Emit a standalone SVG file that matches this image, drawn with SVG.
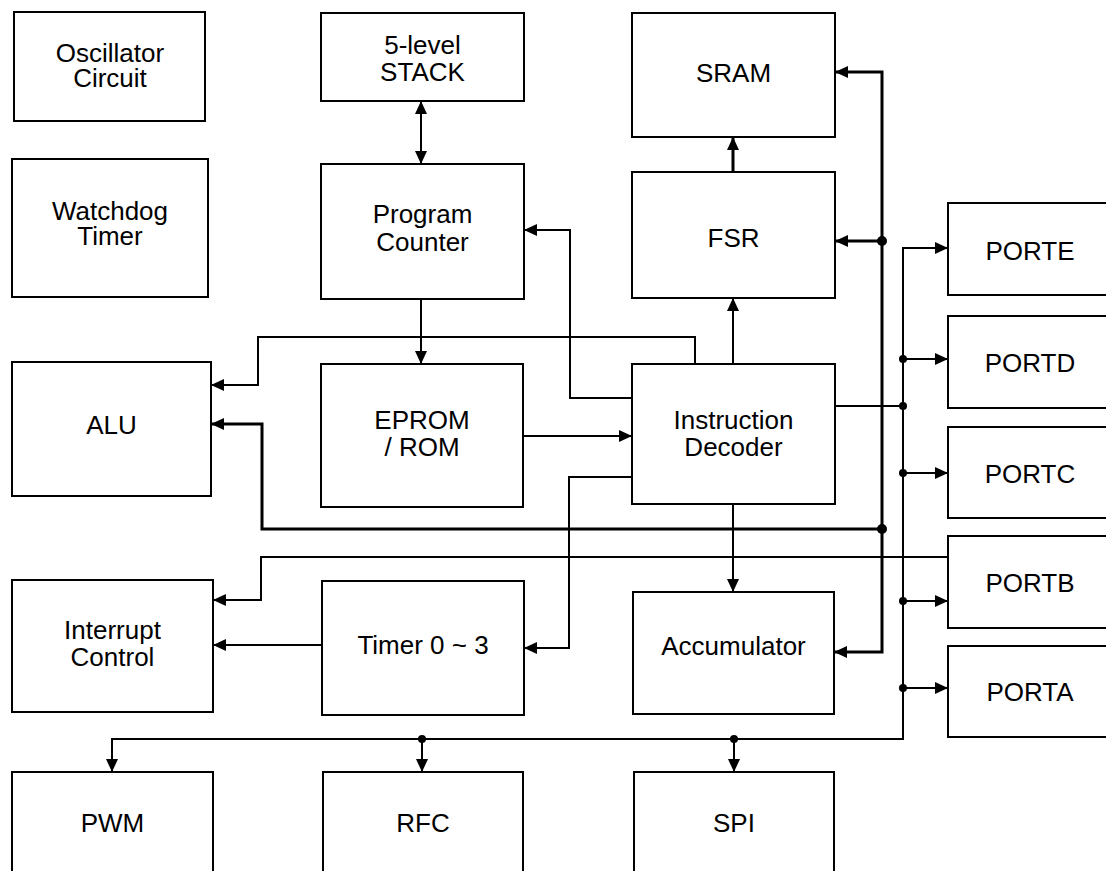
<svg xmlns="http://www.w3.org/2000/svg" width="1106" height="871" viewBox="0 0 1106 871">
<style>
.box{fill:#fff;stroke:#000;stroke-width:2}
.t{font-family:"Liberation Sans",Arial,sans-serif;font-size:26px;fill:#000;text-anchor:middle}
.ln{fill:none;stroke:#000;stroke-width:2}
.tk{fill:none;stroke:#000;stroke-width:3}
.dot{fill:#000}
</style>
<defs>
<marker id="a" markerUnits="userSpaceOnUse" markerWidth="14" markerHeight="14" refX="13" refY="6" orient="auto-start-reverse" viewBox="0 0 14 12">
<path d="M0,0 L13,6 L0,12 z" fill="#000"/>
</marker>
</defs>
<rect width="1106" height="871" fill="#fff"/>
<g id="osc"><rect class="box" x="14" y="12" width="191" height="109"/><text class="t" x="110" y="62">Oscillator</text><text class="t" x="110" y="87">Circuit</text></g>
<g id="wdt"><rect class="box" x="12" y="159" width="196" height="138"/><text class="t" x="110" y="220">Watchdog</text><text class="t" x="110" y="245">Timer</text></g>
<g id="stack"><rect class="box" x="321" y="13" width="203" height="88"/><text class="t" x="422.5" y="54">5-level</text><text class="t" x="422.5" y="81">STACK</text></g>
<g id="pc"><rect class="box" x="321" y="164" width="203" height="135"/><text class="t" x="422.5" y="223">Program</text><text class="t" x="422.5" y="251">Counter</text></g>
<g id="sram"><rect class="box" x="632" y="13" width="203" height="124"/><text class="t" x="733.5" y="82">SRAM</text></g>
<g id="fsr"><rect class="box" x="632" y="172" width="203" height="126"/><text class="t" x="733.5" y="247">FSR</text></g>
<g id="alu"><rect class="box" x="12" y="362" width="199" height="134"/><text class="t" x="111.5" y="434">ALU</text></g>
<g id="eprom"><rect class="box" x="321" y="364" width="202" height="143"/><text class="t" x="422" y="429">EPROM</text><text class="t" x="422" y="456">/ ROM</text></g>
<g id="decoder"><rect class="box" x="632" y="364" width="203" height="140"/><text class="t" x="733.5" y="429">Instruction</text><text class="t" x="733.5" y="456">Decoder</text></g>
<g id="intc"><rect class="box" x="12" y="580" width="201" height="132"/><text class="t" x="112.5" y="639">Interrupt</text><text class="t" x="112.5" y="666">Control</text></g>
<g id="timer"><rect class="box" x="322" y="581" width="202" height="134"/><text class="t" x="423" y="654">Timer 0 ~ 3</text></g>
<g id="acc"><rect class="box" x="633" y="592" width="201" height="122"/><text class="t" x="733.5" y="655">Accumulator</text></g>
<g id="porte"><rect class="box" x="948" y="203" width="170" height="92"/><text class="t" x="1030" y="260">PORTE</text></g>
<g id="portd"><rect class="box" x="948" y="316" width="170" height="92"/><text class="t" x="1030" y="372">PORTD</text></g>
<g id="portc"><rect class="box" x="948" y="427" width="170" height="91"/><text class="t" x="1030" y="483">PORTC</text></g>
<g id="portb"><rect class="box" x="948" y="536" width="170" height="92"/><text class="t" x="1030" y="592">PORTB</text></g>
<g id="porta"><rect class="box" x="948" y="646" width="170" height="91"/><text class="t" x="1030" y="701">PORTA</text></g>
<g id="pwm"><rect class="box" x="12" y="772" width="201" height="134"/><text class="t" x="112.5" y="832">PWM</text></g>
<g id="rfc"><rect class="box" x="323" y="772" width="200" height="134"/><text class="t" x="423" y="832">RFC</text></g>
<g id="spi"><rect class="box" x="634" y="772" width="200" height="134"/><text class="t" x="734" y="832">SPI</text></g>
<g id="connectors">
<path class="ln" d="M421,101 L421,164" marker-start="url(#a)" marker-end="url(#a)"/>
<path class="ln" d="M632,398 L570,398 L570,230 L524,230" marker-end="url(#a)"/>
<path class="ln" d="M421,299 L421,364" marker-end="url(#a)"/>
<path class="ln" d="M523,436 L632,436" marker-end="url(#a)"/>
<path class="ln" d="M695,364 L695,337 L258,337 L258,385 L211,385" marker-end="url(#a)"/>
<path class="ln" d="M733,364 L733,298" marker-end="url(#a)"/>
<path class="tk" d="M733,172 L733,137" marker-end="url(#a)"/>
<path class="tk" d="M835,72 L882,72 L882,652 L834,652" marker-start="url(#a)" marker-end="url(#a)"/>
<path class="tk" d="M882,241 L835,241" marker-end="url(#a)"/>
<path class="tk" d="M882,529 L262,529 L262,424 L211,424" marker-end="url(#a)"/>
<circle class="dot" cx="882" cy="241" r="5"/>
<circle class="dot" cx="882" cy="529" r="5"/>
<path class="ln" d="M632,477 L569,477 L569,648 L524,648" marker-end="url(#a)"/>
<path class="ln" d="M733,504 L733,592" marker-end="url(#a)"/>
<path class="ln" d="M322,645 L213,645" marker-end="url(#a)"/>
<path class="ln" d="M948,557 L261,557 L261,600 L213,600" marker-end="url(#a)"/>
<path class="ln" d="M835,406 L903,406"/>
<circle class="dot" cx="903" cy="406" r="4"/>
<path class="ln" d="M112,772 L112,739 L903,739 L903,248 L948,248" marker-start="url(#a)" marker-end="url(#a)"/>
<path class="ln" d="M903,359 L948,359" marker-end="url(#a)"/>
<path class="ln" d="M903,473 L948,473" marker-end="url(#a)"/>
<path class="ln" d="M903,601 L948,601" marker-end="url(#a)"/>
<path class="ln" d="M903,688 L948,688" marker-end="url(#a)"/>
<circle class="dot" cx="903" cy="359" r="4"/>
<circle class="dot" cx="903" cy="473" r="4"/>
<circle class="dot" cx="903" cy="601" r="4"/>
<circle class="dot" cx="903" cy="688" r="4"/>
<path class="ln" d="M422,739 L422,772" marker-end="url(#a)"/>
<path class="ln" d="M734,739 L734,772" marker-end="url(#a)"/>
<circle class="dot" cx="422" cy="739" r="4"/>
<circle class="dot" cx="734" cy="739" r="4"/>
</g>
</svg>
